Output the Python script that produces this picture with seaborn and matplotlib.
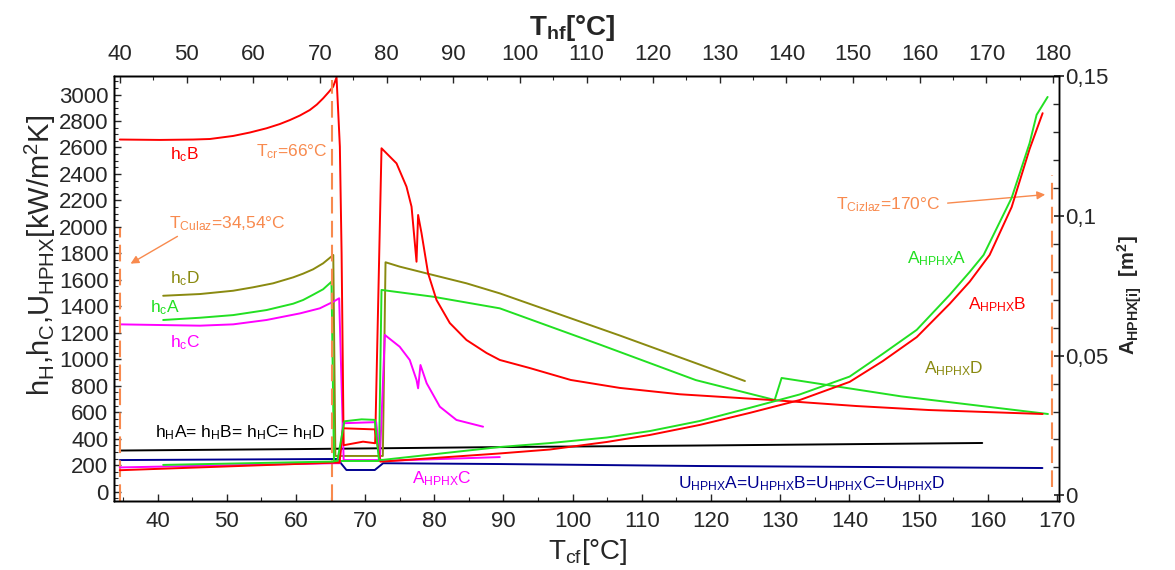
import matplotlib
matplotlib.use("Agg")
import matplotlib.pyplot as plt
from matplotlib.ticker import MultipleLocator, FuncFormatter
import seaborn as sns

# --- data (x = T_cf in °C) ---
# heat transfer coefficients, left axis [kW/m2K]
hcB_T = [34.54, 40.33, 45.14, 47.56, 50.92, 53.34, 55.75, 57.67, 59.12, 60.56, 62.01, 63.02,
         63.93, 64.75, 65.38, 65.87, 66.1, 66.35, 66.6, 66.9, 69.7, 71.45, 72.37, 74.54, 75.98,
         76.71, 77.43, 77.66, 78.15, 79.1, 80.32, 82.24, 84.65, 87.54, 89.47, 93.8, 99.72,
         106.8, 115.47, 128.62, 141.05, 151.46, 167.93]
hcB = [2660, 2657, 2660, 2664, 2687, 2713, 2745, 2777, 2807, 2841, 2883, 2924,
       2971, 3019, 3059, 3130, 2882, 2606, 1803, 351, 378, 366, 2594, 2480, 2304,
       2153, 1737, 2090, 1954, 1650, 1448, 1274, 1146, 1048, 995, 934, 844,
       784, 736, 693, 647, 617, 587]

hcA_T = [40.81, 46.13, 50.93, 55.75, 59.6, 61.04, 62.49, 63.93, 65.14, 65.5, 72.0, 72.37, 79.8,
         89.47, 104.0, 117.8, 129.2, 130.2, 147.5, 168.7]
hcA = [1297, 1314, 1334, 1372, 1420, 1448, 1488, 1529, 1586, 232, 232, 1524, 1473,
       1385, 1110, 843, 693, 859, 720, 587]

hcD_T = [40.81, 46.13, 50.93, 53.82, 56.7, 59.6, 61.04, 62.49, 63.93, 65.4, 65.7, 72.56, 72.95,
         75.0, 79.8, 84.65, 89.47, 106.8, 124.9]
hcD = [1480, 1493, 1518, 1544, 1574, 1619, 1647, 1680, 1725, 1788, 270, 270, 1733,
       1700, 1637, 1574, 1498, 1180, 836]

hcC_T = [34.54, 46.13, 50.93, 55.75, 60.6, 63.45, 65.4, 66.25, 66.9, 72.13, 72.85, 75.0, 76.45,
         77.43, 77.66, 78.0, 78.9, 80.8, 83.2, 87.05]
hcC = [1264, 1254, 1264, 1297, 1347, 1385, 1435, 1461, 239, 239, 1184, 1095, 995,
       844, 781, 957, 819, 642, 542, 491]

hH_T = [34.54, 60.6, 89.47, 118.5, 159.2]
hH = [311, 322, 337, 349, 368]

U_T = [34.54, 65.3, 66.0, 67.3, 71.4, 72.6, 89.47, 118.5, 167.9]
U = [239, 247, 247, 164, 164, 215, 209, 194, 179]

# heat exchanger area, right axis [m2]
AA_T = [40.81, 65.38, 66.0, 67.0, 69.5, 71.4, 72.0, 72.56, 89.47, 96.69, 104.93, 111.14, 118.37,
        125.59, 132.82, 140.04, 144.81, 149.73, 154.49, 157.38, 159.4, 163.45, 166.05, 167.06,
        168.65]
AA = [0.0109, 0.0121, 0.0125, 0.0265, 0.0272, 0.0270, 0.0127, 0.0127, 0.0173, 0.0187, 0.0207,
      0.0230, 0.0266, 0.0313, 0.0361, 0.0425, 0.0506, 0.0592, 0.0717, 0.0799, 0.0860, 0.1064,
      0.1260, 0.1361, 0.1425]

AB_T = [34.54, 65.4, 66.3, 66.8, 71.4, 72.2, 72.56, 89.47, 96.69, 104.93, 111.14, 118.37, 125.59,
        132.82, 140.04, 144.81, 149.73, 154.49, 157.38, 160.27, 163.45, 166.05, 167.93]
AB = [0.0090, 0.0117, 0.0117, 0.0240, 0.0236, 0.0121, 0.0121, 0.0150, 0.0164, 0.0191, 0.0216,
      0.0252, 0.0295, 0.0341, 0.0406, 0.0480, 0.0566, 0.0685, 0.0764, 0.0860, 0.1031,
      0.1239, 0.1367]

AC_T = [34.54, 65.4, 66.3, 66.8, 71.6, 72.2, 89.47]
AC = [0.0100, 0.0115, 0.0115, 0.0258, 0.0262, 0.0123, 0.0137]

# marker temperatures
T_culaz = 34.54
T_cr = 65.2
T_cizlaz = 169.3

RED, GREEN, MAGENTA, OLIVE, NAVY = "#ff0000", "#22e022", "#ff00ff", "#8a8a10", "#000090"
ORANGE = "#f88a4e"

sns.set_theme(style="ticks")
plt.rcParams["font.family"] = ["Liberation Sans", "DejaVu Sans"]
plt.rcParams["mathtext.fontset"] = "custom"
plt.rcParams["mathtext.rm"] = "Liberation Sans"
plt.rcParams["mathtext.bf"] = "Liberation Sans:bold"
plt.rcParams["mathtext.default"] = "regular"

fig = plt.figure(figsize=(11.75, 5.7), dpi=100)
ax = fig.add_axes([0.0970, 0.1211, 0.8043, 0.7456])

lw = 1.4
for T, v, c in [(hH_T, hH, "black"), (U_T, U, NAVY), (hcD_T, hcD, OLIVE),
                (hcC_T, hcC, MAGENTA), (hcA_T, hcA, GREEN), (hcB_T, hcB, RED)]:
    sns.lineplot(x=T, y=v, ax=ax, color=c, lw=lw, sort=False, estimator=None, legend=False)

ax.set_xlim(33.7, 170.3)
ax.set_ylim(-70, 3140)

# dashed temperature markers
dash = dict(color=ORANGE, lw=1.5, linestyles=(0, (8, 3.5)))
ax.vlines(T_culaz, -70, 1990, **dash)
ax.vlines(T_cr, -70, 3109, **dash)
ax.vlines(T_cizlaz, 35, 2392, **dash)

axr = ax.twinx()
for T, v, c in [(AC_T, AC, MAGENTA), (AB_T, AB, RED), (AA_T, AA, GREEN)]:
    sns.lineplot(x=T, y=v, ax=axr, color=c, lw=lw, sort=False, estimator=None, legend=False)
axr.set_ylim(-0.002, 0.15)
axr.set_xlim(33.7, 170.3)

axt = ax.twiny()
axt.set_xlim(39.1, 180.9)

# ticks
ax.xaxis.set_major_locator(MultipleLocator(10))
ax.xaxis.set_minor_locator(MultipleLocator(5))
ax.yaxis.set_major_locator(MultipleLocator(200))
ax.yaxis.set_minor_locator(MultipleLocator(50))
ax.tick_params(axis="x", which="both", direction="in", labelsize=16, pad=7, top=False)
ax.tick_params(axis="y", which="both", direction="in", labelsize=16, pad=4)
ax.tick_params(which="major", length=5, width=1)
ax.tick_params(which="minor", length=3, width=0.8)

axt.xaxis.set_major_locator(MultipleLocator(10))
axt.xaxis.set_minor_locator(MultipleLocator(5))
axt.tick_params(axis="x", which="both", direction="in", labelsize=16, pad=8)
axt.tick_params(which="major", length=5, width=1)
axt.tick_params(which="minor", length=3, width=0.8)

axr.set_yticks([0, 0.05, 0.1, 0.15])
axr.yaxis.set_minor_locator(MultipleLocator(0.01))
axr.yaxis.set_major_formatter(FuncFormatter(lambda v, p: f"{v:g}".replace(".", ",")))
axr.tick_params(axis="y", which="major", direction="inout", length=7, labelsize=16, pad=1)
axr.tick_params(axis="y", which="minor", direction="in", length=4)

for a in (ax, axr, axt):
    for s in a.spines.values():
        s.set_linewidth(1.0)
        s.set_color("black")
axr.spines["right"].set_color("#555555")

# axis titles
fig.text(40 / 1175, 1 - 255 / 570, r"$h_{H}$,$h_{C}$,$U_{HPHX}$[kW/m$^{2}$K]",
         rotation=90, ha="center", va="center", fontsize=21)
fig.text(588 / 1175, 1 - 552 / 570, r"$T_{cf}$[°C]", ha="center", va="center", fontsize=20)
fig.text(572 / 1175, 1 - 28 / 570, r"$\mathbf{T_{hf}}$[°C]", ha="center", va="center",
         fontsize=20, weight="bold")
fig.text(1130 / 1175, 1 - 295 / 570, r"$\mathbf{A_{HPHX[i]}}$  $\mathbf{[m^{2}]}$",
         rotation=90, ha="center", va="center", fontsize=14.5, weight="bold")

# curve labels
fs = 12.5
ax.text(43.95, 2543, r"$h_{c}B$", color=RED, fontsize=fs, ha="center", va="center")
ax.text(43.95, 1612, r"$h_{c}D$", color=OLIVE, fontsize=fs, ha="center", va="center")
ax.text(41.05, 1390, r"$h_{c}A$", color=GREEN, fontsize=fs, ha="center", va="center")
ax.text(43.95, 1128, r"$h_{c}C$", color=MAGENTA, fontsize=fs, ha="center", va="center")
ax.text(51.9, 443, r"$h_{H}A$= $h_{H}B$= $h_{H}C$= $h_{H}D$", color="black", fontsize=fs,
        ha="center", va="center")
ax.text(81.16, 101, r"$A_{HPHX}C$", color=MAGENTA, fontsize=fs, ha="center", va="center")
ax.text(134.6, 63, r"$U_{HPHX}A$=$U_{HPHX}B$=$U_{HPHX}C$=$U_{HPHX}D$", color=NAVY,
        fontsize=fs, ha="center", va="center")
ax.text(152.6, 1763, r"$A_{HPHX}A$", color=GREEN, fontsize=fs, ha="center", va="center")
ax.text(161.4, 1410, r"$A_{HPHX}B$", color=RED, fontsize=fs, ha="center", va="center")
ax.text(155.1, 932, r"$A_{HPHX}D$", color=OLIVE, fontsize=fs, ha="center", va="center")

ax.text(59.45, 2568, r"$T_{cr}$=66°C", color=ORANGE, fontsize=fs, ha="center", va="center")
ax.text(50.16, 2027, r"$T_{Culaz}$=34,54°C", color=ORANGE, fontsize=fs, ha="center", va="center")
ax.annotate("", xy=(35.75, 1712), xytext=(43.22, 1939),
            arrowprops=dict(arrowstyle="-|>", color=ORANGE, lw=1, mutation_scale=12))
ax.text(145.6, 2165, r"$T_{Cizlaz}$=170°C", color=ORANGE, fontsize=fs, ha="center", va="center")
ax.annotate("", xy=(168.7, 2246), xytext=(153.8, 2178),
            arrowprops=dict(arrowstyle="-|>", color=ORANGE, lw=1, mutation_scale=12))

fig.savefig("out.png", dpi=100)
